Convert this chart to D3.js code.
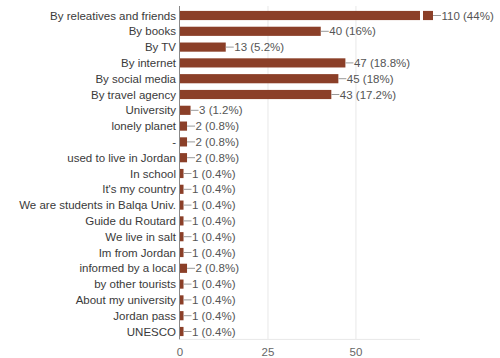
<!DOCTYPE html>
<html>
<head>
<meta charset="utf-8">
<script src="https://cdn.jsdelivr.net/npm/d3@7"></script>
<style>
  body { margin: 0; background: #fff; }
  text { font-family: "Liberation Sans", Arial, sans-serif; }
</style>
</head>
<body>
<div id="chart"></div>
<script>
const categories = [
  "By releatives and friends", "By books", "By TV", "By internet",
  "By social media", "By travel agency", "University", "lonely planet", "-",
  "used to live in Jordan", "In school", "It's my country",
  "We are students in Balqa Univ.", "Guide du Routard", "We live in salt",
  "Im from Jordan", "informed by a local", "by other tourists",
  "About my university", "Jordan pass", "UNESCO"
]
const counts = [110, 40, 13, 47, 45, 43, 3, 2, 2, 2, 1, 1, 1, 1, 1, 1, 2, 1, 1, 1, 1]
const percents = ["44%", "16%", "5.2%", "18.8%", "18%", "17.2%", "1.2%", "0.8%", "0.8%", "0.8%",
  "0.4%", "0.4%", "0.4%", "0.4%", "0.4%", "0.4%", "0.8%", "0.4%", "0.4%", "0.4%", "0.4%"]
const xTicks = [0, 25, 50]
const xMax = 68.2 // visible axis end, longer bars are cut

const dataset = categories.map((c, i) => ({ name: c, value: counts[i], pct: percents[i] }))

const dimensions = {
  width: 500,
  height: 358,
  margin: { top: 7.6, right: 80, bottom: 18.6, left: 180 },
}
dimensions.boundedWidth = dimensions.width - dimensions.margin.left - dimensions.margin.right
dimensions.boundedBottom = dimensions.height - dimensions.margin.bottom

const svg = d3.select("#chart").append("svg")
  .attr("width", dimensions.width)
  .attr("height", dimensions.height)

const xScale = d3.scaleLinear()
  .domain([0, xMax])
  .range([dimensions.margin.left, dimensions.margin.left + dimensions.boundedWidth])

const yScale = d3.scaleBand()
  .domain(categories)
  .range([dimensions.margin.top, dimensions.boundedBottom])
  .paddingInner(0.42)
  .paddingOuter(0.21)

const midY = d => yScale(d.name) + yScale.bandwidth() / 2

// gridlines
svg.append("g")
  .selectAll("line")
  .data(xTicks.slice(1))
  .join("line")
    .attr("x1", d => xScale(d))
    .attr("x2", d => xScale(d))
    .attr("y1", 6)
    .attr("y2", dimensions.boundedBottom)
    .attr("stroke", "#e8e8e8")

// baseline
svg.append("line")
  .attr("x1", xScale(0))
  .attr("x2", xScale(xMax))
  .attr("y1", dimensions.boundedBottom)
  .attr("y2", dimensions.boundedBottom)
  .attr("stroke", "#e8e8e8")

// bars
const bars = svg.append("g")
  .selectAll("g")
  .data(dataset)
  .join("g")

bars.append("rect")
  .attr("x", xScale(0))
  .attr("y", d => yScale(d.name))
  .attr("width", d => xScale(Math.min(d.value, xMax)) - xScale(0))
  .attr("height", yScale.bandwidth())
  .attr("fill", "#8b3f28")

// broken-bar stub for values past the axis end
const endOf = d => d.value > xMax ? xScale(xMax) + 13 : xScale(d.value)
bars.filter(d => d.value > xMax)
  .append("rect")
    .attr("x", xScale(xMax) + 3)
    .attr("y", d => yScale(d.name))
    .attr("width", 10)
    .attr("height", yScale.bandwidth())
    .attr("fill", "#8b3f28")

bars.append("line")
  .attr("x1", d => endOf(d))
  .attr("x2", d => endOf(d) + 8)
  .attr("y1", midY)
  .attr("y2", midY)
  .attr("stroke", "#999")

bars.append("text")
  .attr("x", d => endOf(d) + 8.5)
  .attr("y", midY)
  .attr("dy", "0.35em")
  .attr("font-size", 11.5)
  .attr("fill", "#555")
  .text(d => `${d.value} (${d.pct})`)

// category labels
svg.append("g")
  .selectAll("text")
  .data(dataset)
  .join("text")
    .attr("x", xScale(0) - 4)
    .attr("y", midY)
    .attr("dy", "0.35em")
    .attr("text-anchor", "end")
    .attr("font-size", 11.5)
    .attr("fill", "#3a3a3a")
    .text(d => d.name)

// zero axis line
svg.append("line")
  .attr("x1", xScale(0) - 0.5)
  .attr("x2", xScale(0) - 0.5)
  .attr("y1", 6)
  .attr("y2", dimensions.boundedBottom)
  .attr("stroke", "#888")

// tick labels
svg.append("g")
  .selectAll("text")
  .data(xTicks)
  .join("text")
    .attr("x", d => xScale(d))
    .attr("y", 356)
    .attr("text-anchor", "middle")
    .attr("font-size", 11.5)
    .attr("fill", "#666")
    .text(d => d)
</script>
</body>
</html>
